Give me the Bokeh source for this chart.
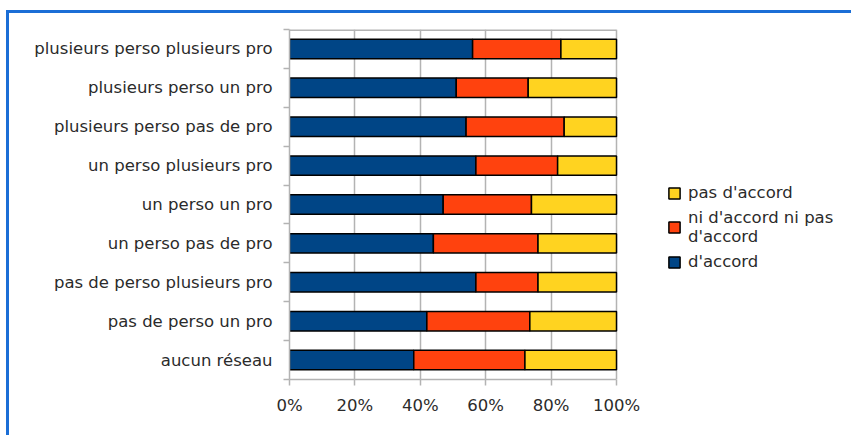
from bokeh.plotting import figure
from bokeh.models import (ColumnDataSource, Range1d, FixedTicker, PrintfTickFormatter,
                          Legend, LegendItem)
from bokeh.embed import file_html
from bokeh.resources import INLINE

categories = ["plusieurs perso plusieurs pro", "plusieurs perso un pro",
              "plusieurs perso pas de pro", "un perso plusieurs pro",
              "un perso un pro", "un perso pas de pro",
              "pas de perso plusieurs pro", "pas de perso un pro", "aucun réseau"]
accord = [56, 51, 54, 57, 47, 44, 57, 42, 38]
neutre = [27, 22, 30, 25, 27, 32, 19, 31.5, 34]
pas_accord = [17, 27, 16, 18, 26, 24, 24, 26.5, 28]
series_keys = ["accord", "neutre", "pas_accord"]
series_labels = ["d'accord", "ni d'accord ni pas\nd'accord", "pas d'accord"]
series_colors = ["#004586", "#ff420e", "#ffd320"]
x_ticks = [0, 20, 40, 60, 80, 100]

pos = [i + 0.5 for i in range(len(categories))]
source = ColumnDataSource(dict(y=pos, accord=accord, neutre=neutre, pas_accord=pas_accord))

FONT = "DejaVu Sans"
FSIZE = "16.5px"
TXT = "#2b2b2b"
GRID = "#b3b3b3"

# layout in pixels: the chart area (0..100 %) is 327 px wide, the frame is
# widened to the right so the legend fits inside it (annotations are clipped)
W_LEFT, W_100, W_FRAME, W_RIGHT = 280, 327, 560, 5
x_end = 100 * W_FRAME / W_100

p = figure(width=W_LEFT + W_FRAME + W_RIGHT, height=425, output_backend="svg",
           toolbar_location=None,
           x_range=Range1d(0, x_end), y_range=Range1d(len(categories), 0),
           min_border_left=W_LEFT, min_border_right=W_RIGHT, min_border_top=16,
           min_border_bottom=59)
p.styles = {"border-left": "3px solid #1b6ed6", "border-top": "3px solid #1b6ed6",
            "margin-left": "6px", "margin-top": "10px"}

rs = p.hbar_stack(series_keys, y="y", height=0.5, color=series_colors, source=source,
                  line_color="black", line_width=1.5)

# top border line of the chart area
p.segment(x0=[0], y0=[0], x1=[100], y1=[0], line_color=GRID, line_width=3)

p.outline_line_color = None
p.ygrid.visible = False
p.xgrid.grid_line_color = GRID
p.xgrid.grid_line_width = 1.5
p.xgrid.ticker = FixedTicker(ticks=x_ticks)

xa = p.xaxis[0]
xa.ticker = FixedTicker(ticks=x_ticks)
xa.bounds = (0, 100)
xa.formatter = PrintfTickFormatter(format="%d%%")
xa.axis_line_color = GRID
xa.axis_line_width = 1.5
xa.major_tick_line_color = GRID
xa.major_tick_line_width = 1.5
xa.major_tick_in = 0
xa.major_tick_out = 6
xa.minor_tick_line_color = None
xa.major_label_text_font = FONT
xa.major_label_text_font_size = FSIZE
xa.major_label_text_color = TXT
xa.major_label_standoff = 10

ya = p.yaxis[0]
ya.ticker = FixedTicker(ticks=pos, minor_ticks=list(range(len(categories) + 1)))
ya.major_label_overrides = {pp: c for pp, c in zip(pos, categories)}
ya.axis_line_color = GRID
ya.axis_line_width = 1.5
ya.major_tick_line_color = None
ya.major_tick_in = 0
ya.major_tick_out = 0
ya.minor_tick_line_color = GRID
ya.minor_tick_line_width = 1.5
ya.minor_tick_in = 0
ya.minor_tick_out = 6
ya.major_label_text_font = FONT
ya.major_label_text_font_size = FSIZE
ya.major_label_text_color = TXT
ya.major_label_standoff = 11

legend = Legend(items=[LegendItem(label=series_labels[i], renderers=[rs[i]]) for i in (2, 1, 0)],
                location=(378, 108), padding=0, margin=0, spacing=6,
                glyph_width=14, glyph_height=14, label_standoff=7,
                label_text_font=FONT, label_text_font_size=FSIZE, label_text_color=TXT,
                border_line_color=None, background_fill_alpha=0)
p.add_layout(legend, "center")

open("out.html", "w").write(file_html(p, INLINE))
